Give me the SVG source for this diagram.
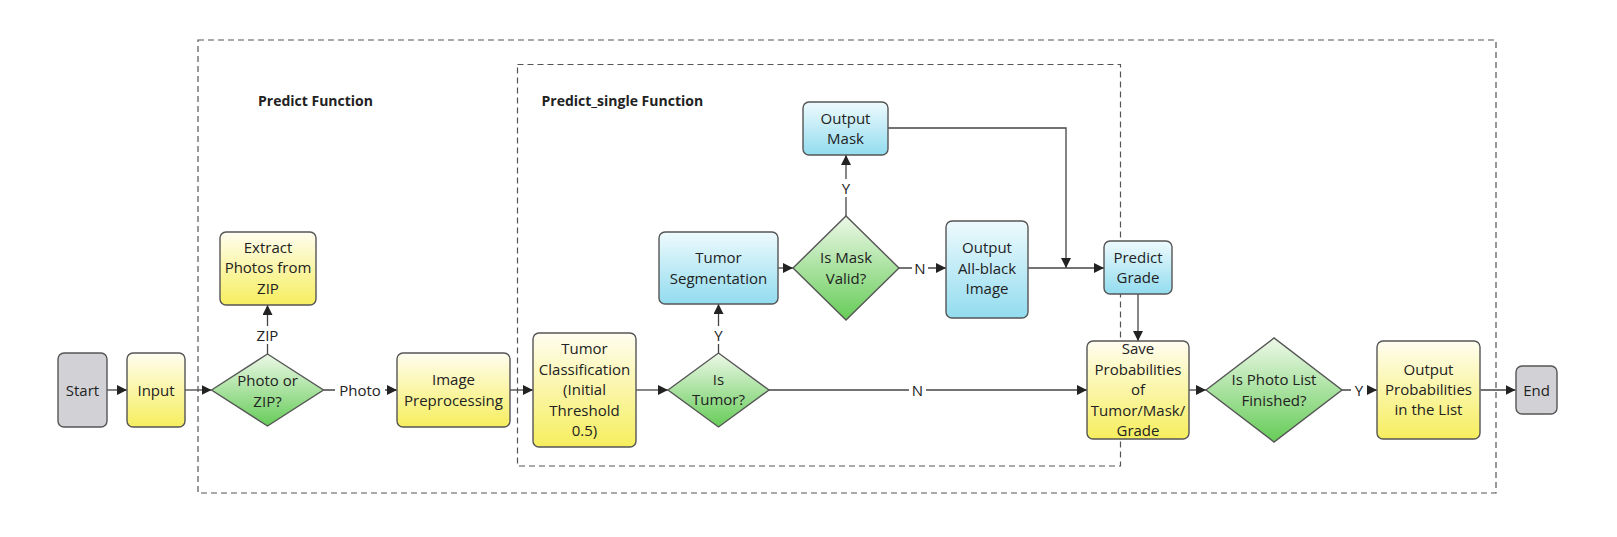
<svg xmlns="http://www.w3.org/2000/svg" width="1617" height="537" viewBox="0 0 1617 537">
<defs>
<linearGradient id="gy" x1="0" y1="0" x2="0" y2="1"><stop offset="0" stop-color="#fffdf0"/><stop offset="1" stop-color="#f6ee5e"/></linearGradient>
<linearGradient id="gb" x1="0" y1="0" x2="0" y2="1"><stop offset="0" stop-color="#eefafd"/><stop offset="1" stop-color="#92dcef"/></linearGradient>
<linearGradient id="gg" x1="0" y1="0" x2="0" y2="1"><stop offset="0" stop-color="#edf8e8"/><stop offset="1" stop-color="#66cc58"/></linearGradient>
<marker id="ah" viewBox="0 0 10 10" refX="10" refY="5" markerWidth="10" markerHeight="10" markerUnits="userSpaceOnUse" orient="auto"><path d="M0,0 L10,5 L0,10 z" fill="#222"/></marker>
</defs>
<style>
text{font-family:"Open Sans","Noto Sans","Liberation Sans",sans-serif;font-size:15px;fill:#222;text-anchor:middle}
.t{font-weight:bold;font-size:14px;text-anchor:start}
.y{fill:url(#gy);stroke:#555;stroke-width:1.4}
.b{fill:url(#gb);stroke:#555;stroke-width:1.4}
.g{fill:url(#gg);stroke:#555;stroke-width:1.4}
.k{fill:#d2d2d6;stroke:#555;stroke-width:1.4}
.d{fill:none;stroke:#555;stroke-width:1.2;stroke-dasharray:6 4}
.c{fill:none;stroke:#444;stroke-width:1.3}
.a{marker-end:url(#ah)}
.lb{fill:#fff}
</style>
<rect width="1617" height="537" fill="#fff"/>
<g id="containers">
<rect class="d" x="198" y="40" width="1298" height="453"/>
<rect class="d" x="517.5" y="64.5" width="603" height="401.5"/>
<text class="t" x="258" y="106">Predict Function</text>
<text class="t" x="541.5" y="106">Predict_single Function</text>
</g>
<g id="connectors">
<path class="c a" d="M107,390 H127"/>
<path class="c a" d="M185,390 H211.5"/>
<path class="c a" d="M267.5,354 V305"/>
<path class="c a" d="M323.5,390 H397"/>
<path class="c a" d="M510,390 H533"/>
<path class="c a" d="M636,390 H668"/>
<path class="c a" d="M718.5,353 V304"/>
<path class="c a" d="M778,268 H793"/>
<path class="c a" d="M846,216 V155"/>
<path class="c a" d="M899,268 H946"/>
<path class="c a" d="M888,128 H1066 V268"/>
<path class="c a" d="M1028,268 H1104"/>
<path class="c a" d="M1138,294 V341"/>
<path class="c a" d="M769,390 H1087"/>
<path class="c a" d="M1189,390 H1206"/>
<path class="c a" d="M1342,390 H1377"/>
<path class="c a" d="M1480.5,390 H1515.5"/>
<rect class="lb" x="254" y="326" width="27" height="18"/><text x="267.5" y="340.5">ZIP</text>
<rect class="lb" x="335" y="381" width="50" height="18"/><text x="360" y="395.5">Photo</text>
<rect class="lb" x="711" y="326" width="15" height="18"/><text x="718.5" y="340.5">Y</text>
<rect class="lb" x="839" y="179" width="15" height="18"/><text x="846" y="193.5">Y</text>
<rect class="lb" x="912" y="259" width="16" height="18"/><text x="920" y="273.5">N</text>
<rect class="lb" x="909" y="381" width="17" height="18"/><text x="917.5" y="395.5">N</text>
<rect class="lb" x="1351" y="381" width="16" height="18"/><text x="1359" y="395.5">Y</text>
</g>
<g id="start"><rect class="k" x="58" y="353" width="49" height="74" rx="6"/><text x="82.5" y="395.5">Start</text></g>
<g id="input"><rect class="y" x="127" y="353" width="58" height="74" rx="6"/><text x="156" y="395.5">Input</text></g>
<g id="photo-or-zip"><polygon class="g" points="211.5,390 267.5,354 323.5,390 267.5,426"/><text x="267.5" y="385.5">Photo or</text><text x="267.5" y="406.5">ZIP?</text></g>
<g id="extract"><rect class="y" x="220" y="232" width="96" height="73" rx="6"/><text x="268" y="252.5">Extract</text><text x="268" y="273">Photos from</text><text x="268" y="294">ZIP</text></g>
<g id="preprocess"><rect class="y" x="397" y="353" width="113" height="74" rx="6"/><text x="453.5" y="385">Image</text><text x="453.5" y="405.5">Preprocessing</text></g>
<g id="classification"><rect class="y" x="533" y="333" width="103" height="114" rx="6"/><text x="584.5" y="354">Tumor</text><text x="584.5" y="374.5">Classification</text><text x="584.5" y="395">(Initial</text><text x="584.5" y="415.5">Threshold</text><text x="584.5" y="436">0.5)</text></g>
<g id="is-tumor"><polygon class="g" points="668,390 718.5,353 769,390 718.5,427"/><text x="718.5" y="385">Is</text><text x="718.5" y="405">Tumor?</text></g>
<g id="segmentation"><rect class="b" x="659" y="232" width="119" height="72" rx="6"/><text x="718.5" y="263">Tumor</text><text x="718.5" y="283.5">Segmentation</text></g>
<g id="is-mask-valid"><polygon class="g" points="793,268 846,216 899,268 846,320"/><text x="846" y="262.5">Is Mask</text><text x="846" y="283.5">Valid?</text></g>
<g id="output-mask"><rect class="b" x="803" y="102" width="85" height="53" rx="6"/><text x="845.5" y="123.5">Output</text><text x="845.5" y="144">Mask</text></g>
<g id="all-black"><rect class="b" x="946" y="221" width="82" height="97" rx="6"/><text x="987" y="252.5">Output</text><text x="987" y="273.5">All-black</text><text x="987" y="294">Image</text></g>
<g id="predict-grade"><rect class="b" x="1104" y="241" width="68" height="53" rx="6"/><text x="1138" y="262.5">Predict</text><text x="1138" y="283">Grade</text></g>
<g id="save"><rect class="y" x="1087" y="341" width="102" height="98" rx="6"/><text x="1138" y="354">Save</text><text x="1138" y="374.5">Probabilities</text><text x="1138" y="395">of</text><text x="1138" y="415.5">Tumor/Mask/</text><text x="1138" y="436">Grade</text></g>
<g id="is-finished"><polygon class="g" points="1206,390 1274,338 1342,390 1274,442"/><text x="1274" y="384.5">Is Photo List</text><text x="1274" y="405.5">Finished?</text></g>
<g id="output-probs"><rect class="y" x="1377" y="341" width="103" height="98" rx="6"/><text x="1428.5" y="375">Output</text><text x="1428.5" y="395">Probabilities</text><text x="1428.5" y="415">in the List</text></g>
<g id="end"><rect class="k" x="1516" y="366" width="41" height="48" rx="6"/><text x="1536.5" y="395.5">End</text></g>
</svg>
